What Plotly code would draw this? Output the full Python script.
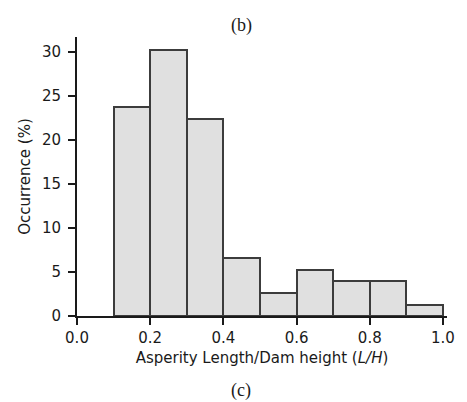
import plotly.graph_objects as go

bin_left = [0.1, 0.2, 0.3, 0.4, 0.5, 0.6, 0.7, 0.8, 0.9]
bin_width = 0.1
occurrence = [23.7, 30.2, 22.35, 6.55, 2.6, 5.25, 4.0, 4.0, 1.3]
x_ticks = [0.0, 0.2, 0.4, 0.6, 0.8, 1.0]
x_tick_labels = ["0.0", "0.2", "0.4", "0.6", "0.8", "1.0"]
y_ticks = [0, 5, 10, 15, 20, 25, 30]

centers = [b + bin_width / 2 for b in bin_left]

W, H = 467, 402
ML, MR, MT, MB = 77, 15, 37, 86
plot_w = W - ML - MR
plot_h = H - MT - MB

fig = go.Figure()
fig.add_trace(go.Bar(
    x=centers, y=occurrence, width=[bin_width] * len(centers),
    marker=dict(color="#e0e0e0", line=dict(color="#3c3c3c", width=2)),
    showlegend=False,
))

font = dict(family="DejaVu Sans", size=15, color="#1a1a1a")
serif = dict(family="Liberation Serif", size=18, color="#1a1a1a")
fig.update_layout(
    width=W, height=H,
    margin=dict(l=ML, r=MR, t=MT, b=MB),
    paper_bgcolor="white", plot_bgcolor="white",
    font=font,
    bargap=0,
    xaxis=dict(
        range=[0, 1.011], tickvals=x_ticks, ticktext=x_tick_labels,
        showline=True, linecolor="#1a1a1a", linewidth=2,
        ticks="outside", ticklen=7, tickwidth=2, tickcolor="#1a1a1a",
        showgrid=False, zeroline=False,
        title=dict(text="Asperity Length/Dam height (<i>L/H</i>)", font=dict(size=15), standoff=6),
    ),
    yaxis=dict(
        range=[0, 31.7], tickvals=y_ticks,
        showline=True, linecolor="#1a1a1a", linewidth=2,
        ticks="outside", ticklen=7, tickwidth=2, tickcolor="#1a1a1a",
        ticklabelstandoff=4,
        showgrid=False, zeroline=False,
        title=dict(text="Occurrence (%)", font=dict(size=15), standoff=8),
    ),
    annotations=[
        dict(text="(b)", xref="paper", yref="paper", showarrow=False, font=serif,
             x=(244 - ML) / plot_w, y=(H - MB - 26) / plot_h, yanchor="middle"),
        dict(text="(c)", xref="paper", yref="paper", showarrow=False, font=serif,
             x=(243 - ML) / plot_w, y=(H - MB - 390) / plot_h, yanchor="middle"),
    ],
)

fig.write_html("out.html")
